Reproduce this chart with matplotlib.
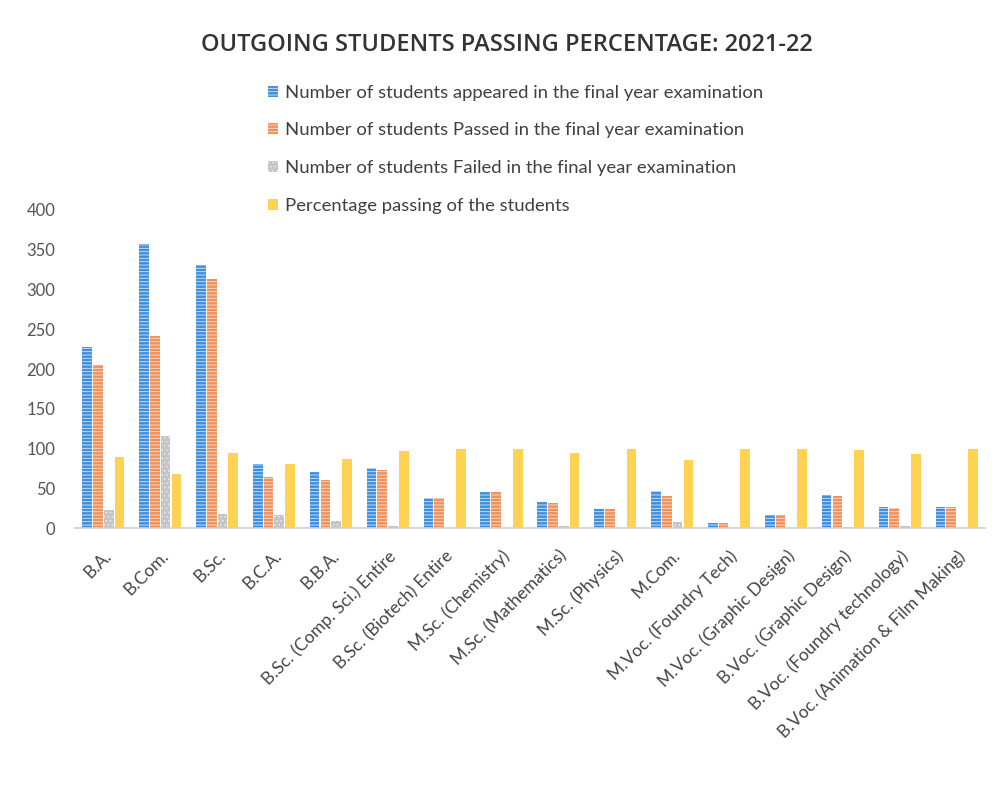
import matplotlib
matplotlib.use("Agg")
import matplotlib.pyplot as plt
import numpy as np

plt.rcParams['font.family'] = ['Lato', 'DejaVu Sans']
plt.rcParams['hatch.linewidth'] = 0.6

# data
courses = [
    "B.A.", "B.Com.", "B.Sc.", "B.C.A.", "B.B.A.",
    "B.Sc. (Comp. Sci.) Entire", "B.Sc. (Biotech) Entire",
    "M.Sc. (Chemistry)", "M.Sc. (Mathematics)", "M.Sc. (Physics)",
    "M.Com.", "M.Voc. (Foundry Tech)", "M.Voc. (Graphic Design)",
    "B.Voc. (Graphic Design)", "B.Voc. (Foundry technology)",
    "B.Voc. (Animation & Film Making)",
]
appeared = [228, 357, 331, 80, 70, 75, 38, 45, 33, 24, 47, 6, 17, 41, 27, 26]
passed = [205, 241, 313, 64, 61, 73, 38, 45, 31, 24, 40, 6, 17, 40, 25, 26]
failed = [23, 116, 18, 16, 9, 2, 0, 0, 2, 0, 7, 0, 0, 1, 2, 0]
pass_pct = [89.9, 67.5, 94.6, 80.0, 87.1, 97.3, 100, 100, 93.9, 100,
            85.1, 100, 100, 97.6, 92.6, 100]

series_labels = [
    "Number of students appeared in the final year examination",
    "Number of students Passed in the final year examination",
    "Number of students Failed in the final year examination",
    "Percentage passing of the students",
]

fig = plt.figure(figsize=(9.98, 8.02), dpi=100)
ax = fig.add_axes([0.075, 0.3416, 0.912, 0.3966])

x = np.arange(len(courses))
w = 0.19
offsets = [-1.5 * w, -0.5 * w, 0.5 * w, 1.5 * w]

ax.bar(x + offsets[0], appeared, w * 0.9, color='#3f8fe0', edgecolor='#d9e8f8',
       linewidth=0, hatch='-----', label=series_labels[0])
ax.bar(x + offsets[1], passed, w * 0.9, color='#f0915c', edgecolor='#fbe0cf',
       linewidth=0, hatch='-----', label=series_labels[1])
ax.bar(x + offsets[2], failed, w * 0.9, color='#c4c4c4', edgecolor='#ededed',
       linewidth=0, hatch='....', label=series_labels[2])
ax.bar(x + offsets[3], pass_pct, w * 0.9, color='#ffd253', linewidth=0,
       label=series_labels[3])

ax.set_xlim(-0.5, len(courses) - 0.5)
ax.set_ylim(0, 400)
ax.set_yticks(np.arange(0, 401, 50))
ax.tick_params(axis='y', length=0, pad=14, labelsize=12, labelcolor='#555555')
ax.tick_params(axis='x', length=0, pad=14)
ax.set_xticks(x)
ax.set_xticklabels(courses, rotation=45, ha='right', va='top',
                   rotation_mode='anchor', fontsize=12.5, color='#444444')

for s in ['top', 'right', 'left']:
    ax.spines[s].set_visible(False)
ax.spines['bottom'].set_color('#d0d0d0')
ax.spines['bottom'].set_linewidth(1.2)

fig.text(0.508, 0.944, "OUTGOING STUDENTS PASSING PERCENTAGE: 2021-22",
         ha='center', va='center', fontsize=17, fontweight='semibold',
         family=['Open Sans', 'DejaVu Sans'], color='#333333')

fig.legend(loc='upper left', bbox_to_anchor=(0.252, 0.915), ncol=1,
           frameon=False, fontsize=13.3, handlelength=0.55, handleheight=0.55,
           handletextpad=0.35, labelspacing=1.17, labelcolor='#404040')

fig.savefig("out.png", dpi=100, facecolor='white')
